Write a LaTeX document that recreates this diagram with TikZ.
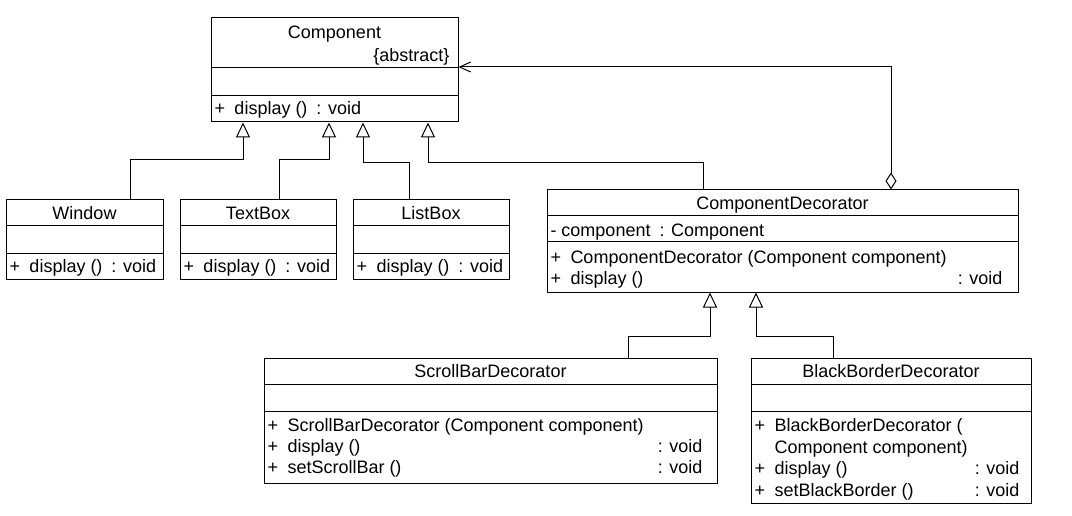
\documentclass[tikz,border=0pt]{standalone}
\usepackage{fontspec}
\setmainfont{Liberation Sans}
\usetikzlibrary{arrows.meta}
\tikzset{
  classbox/.style={draw, inner sep=0pt},
  classname/.style={inner sep=0pt, text height=13pt, text depth=0pt},
  member/.style={anchor=west, inner sep=0pt, text height=13pt, text depth=0pt},
  rettype/.style={anchor=east, inner sep=0pt, text height=13pt, text depth=0pt},
  inherit/.style={-{Triangle[open, length=15pt, width=14pt]}},
  aggr/.style={{Diamond[open, length=17pt, width=11pt]}-{Straight Barb[length=11pt, width=10pt]}},
}
\newcommand{\pl}{\makebox[20pt][l]{+}}
\newcommand{\rtype}{\hspace{9pt}: }
\begin{document}
\begin{tikzpicture}[x=1pt, y=-1pt, line width=1pt, font=\fontsize{18}{21}\selectfont]
\useasboundingbox (0,0) rectangle (1072,516);
% Component
\node[classbox, minimum width=247pt, minimum height=104pt] (comp) at (334.5,70) {};
\draw (211,68) -- (458,68) (211,96) -- (458,96);
\node[classname] (compname) at (334.5,32) {Component};
\node[rettype] (compabs) at (450,55) {\{abstract\}};
\node[member] (compdisp) at (214,108) {\pl display ()\rtype void};
% Window
\node[classbox, minimum width=157pt, minimum height=79pt] (win) at (84.5,239.5) {};
\draw (6,226) -- (163,226) (6,253) -- (163,253);
\node[classname] (winname) at (84.5,213) {Window};
\node[member] (windisp) at (9,266) {\pl display ()\rtype void};
% TextBox
\node[classbox, minimum width=156pt, minimum height=79pt] (tb) at (258,239.5) {};
\draw (180,226) -- (336,226) (180,253) -- (336,253);
\node[classname] (tbname) at (258,213) {TextBox};
\node[member] (tbdisp) at (183,266) {\pl display ()\rtype void};
% ListBox
\node[classbox, minimum width=156pt, minimum height=79pt] (lb) at (431,239.5) {};
\draw (353,226) -- (509,226) (353,253) -- (509,253);
\node[classname] (lbname) at (431,213) {ListBox};
\node[member] (lbdisp) at (356,266) {\pl display ()\rtype void};
% ComponentDecorator
\node[classbox, minimum width=471pt, minimum height=102pt] (cd) at (782.5,241) {};
\draw (547,216) -- (1018,216) (547,242) -- (1018,242);
\node[classname] (cdname) at (782.5,203) {ComponentDecorator};
\node[member] (cdattr) at (550,230) {- component\rtype Component};
\node[member] (cdctor) at (550,257) {\pl ComponentDecorator (Component component)};
\node[member] (cddisp) at (550,278) {\pl display ()};
\node[rettype] (cdvoid) at (1003,278) {: void};
% ScrollBarDecorator
\node[classbox, minimum width=453pt, minimum height=125pt] (sb) at (490.5,420.5) {};
\draw (264,384) -- (717,384) (264,411) -- (717,411);
\node[classname] (sbname) at (490.5,371) {ScrollBarDecorator};
\node[member] (sbctor) at (267,425) {\pl ScrollBarDecorator (Component component)};
\node[member] (sbdisp) at (267,446) {\pl display ()};
\node[member] (sbset) at (267,467) {\pl setScrollBar ()};
\node[rettype] (sbvoida) at (703,446) {: void};
\node[rettype] (sbvoidb) at (703,467) {: void};
% BlackBorderDecorator
\node[classbox, minimum width=280pt, minimum height=145pt] (bb) at (891,430.5) {};
\draw (751,384) -- (1031,384) (751,411) -- (1031,411);
\node[classname] (bbname) at (891,371) {BlackBorderDecorator};
\node[member] (bbctor) at (754,425) {\pl BlackBorderDecorator (};
\node[member] (bbctorb) at (774,447) {Component component)};
\node[member] (bbdisp) at (754,468) {\pl display ()};
\node[member] (bbset) at (754,490) {\pl setBlackBorder ()};
\node[rettype] (bbvoida) at (1020,468) {: void};
\node[rettype] (bbvoidb) at (1020,490) {: void};
% relations
\draw[inherit] ([xshift=45.5pt]win.north) -- ++(0,-40) -| ([xshift=-91.5pt]comp.south);
\draw[inherit] ([xshift=21pt]tb.north) -- ++(0,-40) -| ([xshift=-5.5pt]comp.south);
\draw[inherit] ([xshift=-22pt]lb.north) -- ++(0,-37) -| ([xshift=28.5pt]comp.south);
\draw[inherit] ([xshift=-79.5pt]cd.north) -- ++(0,-27) -| ([xshift=93.5pt]comp.south);
\draw[inherit] ([xshift=137.5pt]sb.north) -- ++(0,-21) -| ([xshift=-72.5pt]cd.south);
\draw[inherit] ([xshift=-58pt]bb.north) -- ++(0,-21) -| ([xshift=-26.5pt]cd.south);
\draw[aggr] ([xshift=108.5pt]cd.north) |- ([yshift=3pt]comp.east);
\end{tikzpicture}
\end{document}
